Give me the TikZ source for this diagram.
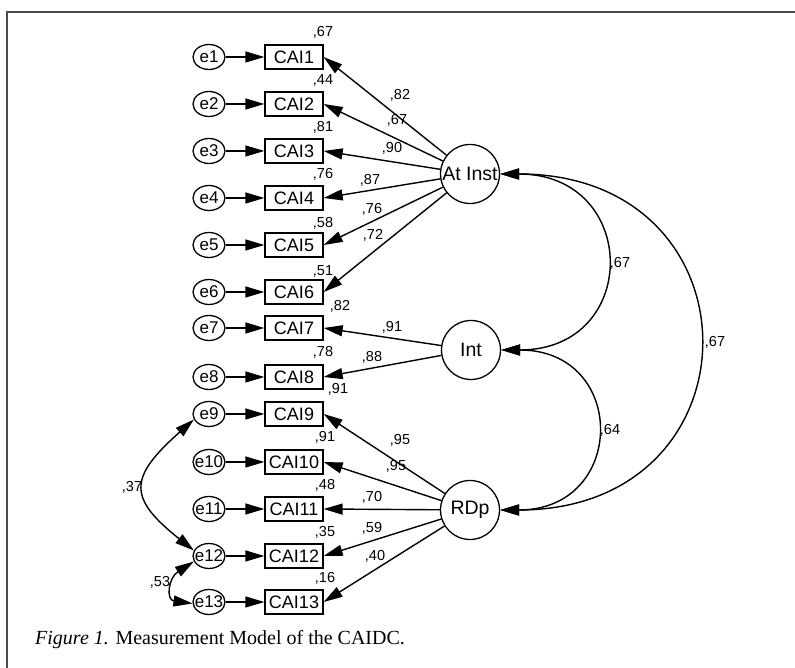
\documentclass[tikz,border=0pt]{standalone}
\usepackage{fontspec}
\setmainfont{Liberation Sans}
\newfontfamily\capfont{Liberation Serif}
\usetikzlibrary{arrows.meta,shapes.geometric}
\begin{document}
\begin{tikzpicture}[x=1pt,y=1pt,
  obs/.style={draw,line width=1.3pt,minimum width=58pt,minimum height=24pt,inner sep=0pt,font=\fontsize{18}{18}\selectfont},
  err/.style={draw,ellipse,line width=1.3pt,minimum width=32pt,minimum height=25pt,inner sep=0pt,font=\fontsize{17}{17}\selectfont},
  lat/.style={draw,circle,line width=1.3pt,minimum size=59pt,inner sep=0pt,font=\fontsize{19.5}{20}\selectfont},
  val/.style={inner sep=0pt,font=\fontsize{14.5}{14.5}\selectfont},
  tip/.tip={Triangle[length=19pt,width=11pt]},
  arr/.style={line width=1.4pt,-tip},
  cov/.style={line width=1.4pt,tip-tip}]
\useasboundingbox (0,0) rectangle (795,668);
\draw[line width=2pt,black!70] (7,0) -- (7,656) -- (795,656);

\foreach \i/\y in {1/611,2/564,3/517,4/470,5/423,6/376,7/340,8/291,9/254,10/206,11/159,12/112,13/66}{
  \node[obs] (cai\i) at (294,\y) {CAI\i};
  \node[err] (e\i) at (209,\y) {\makebox[0pt][c]{e\i}};
  \draw[arr] (e\i) -- (cai\i);
}

\node[lat] (atinst) at (470,494) {\makebox[0pt][c]{At Inst}};
\node[lat] (int) at (471,318) {\makebox[0pt][c]{Int}};
\node[lat] (rdp) at (470,158) {\makebox[0pt][c]{RDp}};

\foreach \i in {1,...,6}{\draw[arr] (atinst) -- (cai\i.east);}
\foreach \i in {7,8}{\draw[arr] (int) -- (cai\i.east);}
\foreach \i in {9,...,13}{\draw[arr] (rdp) -- (cai\i.east);}

\draw[cov] (atinst.east) .. controls +(140,0) and +(140,0) .. (int.east);
\draw[cov] (int.east) .. controls +(127,0) and +(127,0) .. (rdp.east);
\draw[cov] (atinst.east) .. controls +(264,0) and +(264,0) .. (rdp.east);
\draw[cov] (e9.200) .. controls (128,190) and (128,170) .. (e12.160);
\draw[cov] (e12.200) .. controls (168,90) and (166,68) .. (e13.185);

% loadings
\foreach \n/\x/\y/\t in {l1/400/573/82,l2/397/548/67,l3/392/520/90,l4/370/488/87,l5/372/459/76,l6/373/433/72,l7/392/341/91,l8/372/311/88,l9/400/228/95,l10/396/202/95,l11/372/171/70,l12/372/140/59,l13/375/112/40}{
  \node[val] (\n) at (\x,\y) {,\t};
}
% squared multiple correlations
\foreach \n/\x/\y/\t in {r1/323/636/67,r2/323/588/44,r3/323/541/81,r4/323/494/76,r5/323/445/58,r6/323/397/51,r7/340/362/82,r8/323/316/78,r9/338/279/91,r10/325/231/91,r11/325/183/48,r12/325/136/35,r13/325/90/16}{
  \node[val] (\n) at (\x,\y) {,\t};
}
% covariances
\node[val] (c1) at (620,405) {,67};
\node[val] (c2) at (610,238) {,64};
\node[val] (c3) at (715,326) {,67};
\node[val] (c4) at (132,181) {,37};
\node[val] (c5) at (160,86) {,53};

\node[anchor=base west,inner sep=0pt,font=\capfont\fontsize{20}{20}\selectfont] (cap) at (35,23) {\textit{Figure 1.} Measurement Model of the CAIDC.};
\end{tikzpicture}
\end{document}
